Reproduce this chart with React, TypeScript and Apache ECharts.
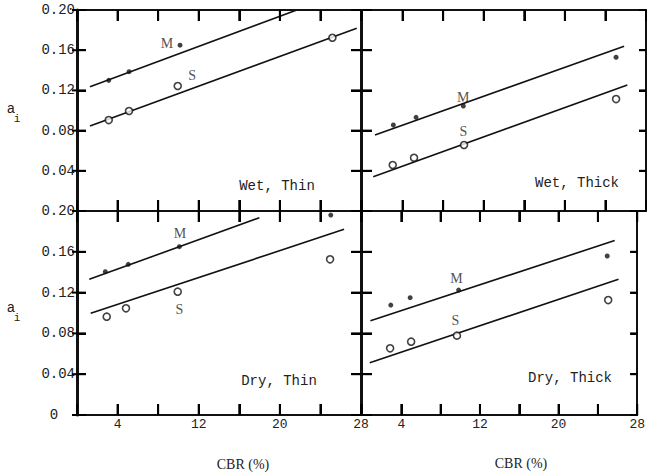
import React, { useEffect, useRef } from "react";
import * as echarts from "echarts";

// ---- Data (CBR %, a_i) ----
const xTickValues = [0, 4, 8, 12, 16, 20, 24, 28];
const yTickValues = [0, 0.04, 0.08, 0.12, 0.16, 0.2];
const xTickLabels = ["4", "12", "20", "28"];
const yTickLabels = ["0", "0.04", "0.08", "0.12", "0.16", "0.20"];

const panelNames = ["Wet, Thin", "Wet, Thick", "Dry, Thin", "Dry, Thick"];

const wetThinM = [[3.13, 0.130], [5.13, 0.1386], [10.16, 0.165]];
const wetThinS = [[3.13, 0.0905], [5.13, 0.0995], [9.93, 0.1244], [25.18, 0.1724]];
const wetThinMLine = [[1.28, 0.1237], [21.67, 0.2]];
const wetThinSLine = [[1.28, 0.0846], [27.58, 0.1818]];
const wetThinLabels = [["M", 8.88, 0.167], ["S", 11.34, 0.135]];

const wetThickM = [[3.09, 0.0856], [5.33, 0.0932], [9.99, 0.1045], [25.05, 0.153]];
const wetThickS = [[3.03, 0.0458], [5.13, 0.053], [10.06, 0.0657], [25.05, 0.1114]];
const wetThickMLine = [[1.28, 0.0756], [25.84, 0.164]];
const wetThickSLine = [[1.11, 0.0341], [26.16, 0.1254]];
const wetThickLabels = [["M", 9.99, 0.113], ["S", 9.99, 0.079]];

const dryThinM = [[2.79, 0.1405], [5.06, 0.1477], [10.09, 0.165], [25.02, 0.196]];
const dryThinS = [[2.93, 0.0964], [4.83, 0.1046], [9.93, 0.1209], [24.95, 0.1526]];
const dryThinMLine = [[1.21, 0.133], [17.98, 0.1934]];
const dryThinSLine = [[1.35, 0.0997], [26.33, 0.182]];
const dryThinLabels = [["M", 10.16, 0.178], ["S", 10.09, 0.1036]];

const dryThickM = [[2.93, 0.1078], [4.9, 0.115], [9.83, 0.1225], [24.95, 0.1559]];
const dryThickS = [[2.86, 0.0654], [5.0, 0.0719], [9.66, 0.0778], [25.05, 0.1127]];
const dryThickMLine = [[0.86, 0.0925], [25.71, 0.171]];
const dryThickSLine = [[0.79, 0.0513], [26.1, 0.133]];
const dryThickLabels = [["M", 9.6, 0.134], ["S", 9.5, 0.093]];

const panels = [
  { M: wetThinM, S: wetThinS, ML: wetThinMLine, SL: wetThinSLine, labels: wetThinLabels },
  { M: wetThickM, S: wetThickS, ML: wetThickMLine, SL: wetThickSLine, labels: wetThickLabels },
  { M: dryThinM, S: dryThinS, ML: dryThinMLine, SL: dryThinSLine, labels: dryThinLabels },
  { M: dryThickM, S: dryThickS, ML: dryThickMLine, SL: dryThickSLine, labels: dryThickLabels },
];

const INK = "#111111";
const TEXT = "#222222";
const MONO = "'Liberation Mono', 'DejaVu Sans Mono', monospace";
const SERIF = "'Liberation Serif', 'DejaVu Serif', serif";

const grids = [
  { left: 77, top: 10, width: 284, height: 201 },
  { left: 362, top: 10, width: 284, height: 201 },
  { left: 77, top: 211, width: 284, height: 204 },
  { left: 362, top: 211, width: 284, height: 204 },
];

function buildOption() {
  const xAxis: any[] = [];
  const yAxis: any[] = [];
  const series: any[] = [];
  const line = (w: number) => ({ show: true, onZero: false, lineStyle: { color: INK, width: w } });
  const tick = (len: number) => ({ show: true, inside: true, length: len, lineStyle: { color: "#000", width: 2 } });

  grids.forEach((g, p) => {
    const isLeft = p % 2 === 0;
    const isBottom = p >= 2;
    xAxis.push({
      type: "value",
      gridIndex: p,
      position: "bottom",
      z: 10,
      min: 0,
      max: 28,
      interval: 4,
      splitLine: { show: false },
      axisLine: line(2),
      axisTick: tick(11),
      axisLabel: {
        show: isBottom,
        margin: 3,
        color: TEXT,
        fontFamily: MONO,
        fontSize: 13,
        formatter: (v: number) => {
          const s = String(v);
          return xTickLabels.includes(s) ? s : "";
        },
      },
    });
    xAxis.push({
      type: "value",
      gridIndex: p,
      position: "top",
      z: 10,
      min: 0,
      max: 28,
      interval: 4,
      splitLine: { show: false },
      axisLine: line(2),
      axisTick: tick(11),
      axisLabel: { show: false },
    });
    yAxis.push({
      type: "value",
      gridIndex: p,
      position: "left",
      z: 10,
      min: 0,
      max: 0.2,
      interval: 0.04,
      splitLine: { show: false },
      axisLine: line(isLeft ? 3 : 2),
      axisTick: tick(isLeft ? 9 : 10),
      axisLabel: {
        show: isLeft,
        margin: 2,
        color: TEXT,
        fontFamily: MONO,
        fontSize: 14,
        formatter: (v: number) => {
          const s = v === 0 ? "0" : v.toFixed(2);
          if (s === "0") return isBottom ? "0  " : "";
          return yTickLabels.includes(s) ? s : "";
        },
      },
    });
    yAxis.push({
      type: "value",
      gridIndex: p,
      position: "right",
      z: 10,
      min: 0,
      max: 0.2,
      interval: 0.04,
      splitLine: { show: false },
      axisLine: line(2),
      axisTick: tick(isLeft ? 10 : 7),
      axisLabel: { show: false },
    });

    const d = panels[p];
    const xi = 2 * p;
    const yi = 2 * p;

    // tick marks drawn again through the panel's scales, above everything
    series.push({
      type: "custom",
      xAxisIndex: xi,
      yAxisIndex: yi,
      silent: true,
      z: 20,
      zlevel: 1,
      clip: false,
      data: [[0, 0]],
      renderItem: (_params: any, api: any) => {
        const children: any[] = [];
        const st = { stroke: "#000", lineWidth: 2, fill: "none" };
        const bl = api.coord([0, 0]);
        const tr = api.coord([28, 0.2]);
        const xL = bl[0];
        const xR = tr[0];
        const yB = bl[1];
        const yT = tr[1];
        xTickValues.forEach((v) => {
          const x = api.coord([v, 0])[0];
          children.push({ type: "line", shape: { x1: x, y1: yB, x2: x, y2: yB - 11 }, style: st });
          children.push({ type: "line", shape: { x1: x, y1: yT, x2: x, y2: yT + 11 }, style: st });
        });
        yTickValues.forEach((v) => {
          const y = api.coord([0, v])[1];
          children.push({
            type: "line",
            shape: { x1: xL - (isLeft ? 5 : 0), y1: y, x2: xL + (isLeft ? 9 : 10), y2: y },
            style: st,
          });
          children.push({
            type: "line",
            shape: { x1: xR, y1: y, x2: xR - (isLeft ? 10 : 7), y2: y },
            style: st,
          });
        });
        return { type: "group", children };
      },
    });
    series.push({
      type: "line",
      xAxisIndex: xi,
      yAxisIndex: yi,
      data: d.ML,
      symbol: "none",
      lineStyle: { color: INK, width: 1.6 },
      silent: true,
    });
    series.push({
      type: "line",
      xAxisIndex: xi,
      yAxisIndex: yi,
      data: d.SL,
      symbol: "none",
      lineStyle: { color: INK, width: 1.6 },
      silent: true,
    });
    series.push({
      type: "scatter",
      xAxisIndex: xi,
      yAxisIndex: yi,
      data: d.M,
      symbol: "circle",
      symbolSize: 5,
      itemStyle: { color: INK },
      z: 5,
    });
    series.push({
      type: "scatter",
      xAxisIndex: xi,
      yAxisIndex: yi,
      data: d.S,
      symbol: "circle",
      symbolSize: 7,
      itemStyle: { color: "#ffffff", borderColor: INK, borderWidth: 1.6 },
      z: 5,
    });
    series.push({
      type: "scatter",
      xAxisIndex: xi,
      yAxisIndex: yi,
      data: d.labels.map((l: any) => ({ name: l[0], value: [l[1], l[2]] })),
      symbolSize: 1,
      itemStyle: { color: "rgba(0,0,0,0)" },
      label: {
        show: true,
        position: "inside",
        formatter: "{b}",
        color: TEXT,
        fontFamily: SERIF,
        fontSize: 14,
      },
      z: 6,
    });
  });

  const panelLabelPos = [
    [277, 186],
    [577, 183],
    [279, 381],
    [570, 378],
  ];
  const graphic: any[] = panelNames.map((t, i) => ({
    type: "text",
    x: panelLabelPos[i][0],
    y: panelLabelPos[i][1],
    style: {
      text: t,
      fill: TEXT,
      font: `14px ${MONO}`,
      align: "center",
      verticalAlign: "middle",
    },
  }));
  [109, 308].forEach((yy) => {
    graphic.push({
      type: "text",
      x: 11,
      y: yy,
      style: { text: "a", fill: TEXT, font: `14px ${MONO}`, align: "center", verticalAlign: "middle" },
    });
    graphic.push({
      type: "text",
      x: 17,
      y: yy + 10,
      style: { text: "i", fill: TEXT, font: `11px ${MONO}`, align: "center", verticalAlign: "middle" },
    });
  });
  [
    [243, 464],
    [521, 463],
  ].forEach((pt) => {
    graphic.push({
      type: "text",
      x: pt[0],
      y: pt[1],
      style: { text: "CBR (%)", fill: TEXT, font: `14px ${SERIF}`, align: "center", verticalAlign: "middle" },
    });
  });

  return {
    animation: false,
    grid: grids,
    xAxis,
    yAxis,
    series,
    graphic,
  };
}

export default function App() {
  const ref = useRef<HTMLDivElement>(null);
  useEffect(() => {
    if (!ref.current) return;
    const chart = echarts.init(ref.current, undefined, { renderer: "svg" });
    chart.setOption(buildOption() as any);
    return () => chart.dispose();
  }, []);
  return (
    <div
      ref={ref}
      style={{ position: "fixed", left: 0, top: 0, width: 648, height: 476, background: "#fff" }}
    />
  );
}
